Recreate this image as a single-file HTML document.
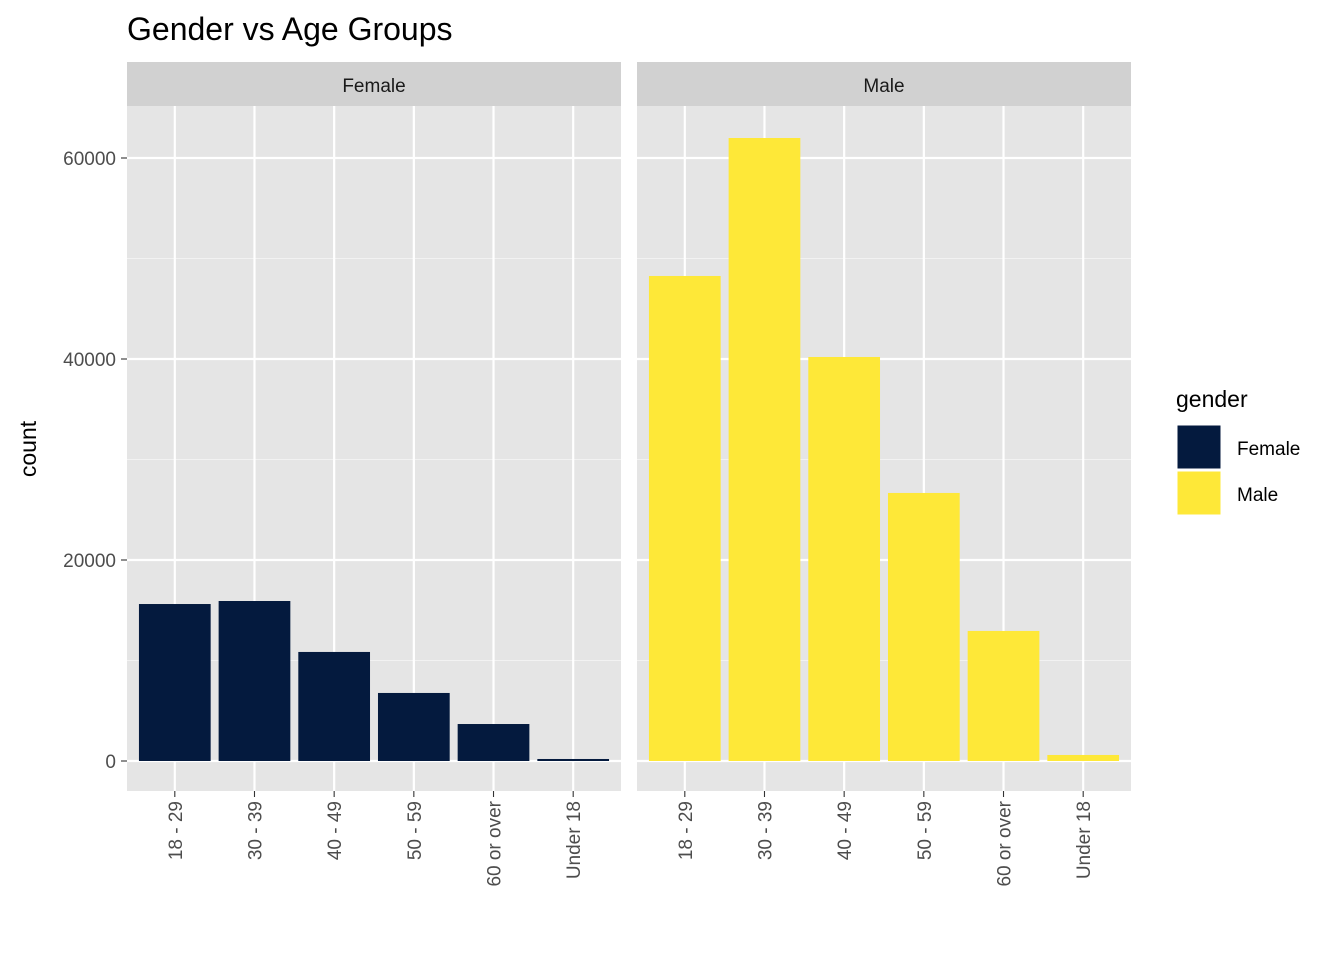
<!DOCTYPE html>
<html><head><meta charset="utf-8"><style>
body{margin:0;background:#fff;font-family:"Liberation Sans",Arial,sans-serif}
</style></head><body>
<svg id="chart" width="1344" height="960" xmlns="http://www.w3.org/2000/svg" font-family="Liberation Sans, Arial, sans-serif">
<text x="127" y="40" font-size="32" fill="#000">Gender vs Age Groups</text>
<text transform="translate(36,449) rotate(-90)" text-anchor="middle" font-size="23" fill="#000">count</text>
<g id="panels"></g>
<g>
<text x="1176" y="407" font-size="23" fill="#000">gender</text>
<rect x="1177" y="425" width="44" height="44" fill="#041a3e" stroke="#fff"/>
<text x="1237" y="455" font-size="19" fill="#000">Female</text>
<rect x="1177" y="471" width="44" height="44" fill="#fee838" stroke="#fff"/>
<text x="1237" y="501" font-size="19" fill="#000">Male</text>
</g>
</svg>
<script>
const categories=["18 - 29","30 - 39","40 - 49","50 - 59","60 or over","Under 18"];
const panelNames=["Female","Male"];
const femaleValues=[15620,15920,10850,6770,3680,200];
const maleValues=[48260,61990,40200,26670,12940,600];
const yTicks=[0,20000,40000,60000];
const yMinor=[10000,30000,50000];
const colors=["#041a3e","#fee838"];
const series=[femaleValues,maleValues];
const NS="http://www.w3.org/2000/svg";
const g=document.getElementById("panels");
const plotTop=106,plotBottom=791,yMin=-2985,yMax=65174;
const y=v=>plotBottom-(v-yMin)/(yMax-yMin)*(plotBottom-plotTop);
const panelX=[127,637],pw=494;
function mk(t,a,p){const e=document.createElementNS(NS,t);for(const k in a)e.setAttribute(k,a[k]);(p||g).appendChild(e);return e;}
panelNames.forEach((name,pi)=>{
 const x0=panelX[pi];
 const step=pw/(categories.length+0.2);
 const xc=i=>x0+step*(0.6+i);
 const bg=mk("rect",{x:x0,y:plotTop,width:pw,height:plotBottom-plotTop,fill:"#e5e5e5"});
 
 
 const strip=mk("rect",{x:x0,y:62,width:pw,height:44,fill:"#d1d1d1"});
 
 
 const st=mk("text",{x:x0+pw/2,y:92,"text-anchor":"middle","font-size":19,fill:"#1a1a1a"});
 st.textContent=name;
 
 
 yMinor.forEach(v=>{const l=mk("line",{x1:x0,x2:x0+pw,y1:y(v),y2:y(v),stroke:"#f2f2f2","stroke-width":1.1});
  
  });
 yTicks.forEach(v=>{const l=mk("line",{x1:x0,x2:x0+pw,y1:y(v),y2:y(v),stroke:"#fff","stroke-width":2.2});
  
  });
 categories.forEach((c,i)=>{const l=mk("line",{x1:xc(i),x2:xc(i),y1:plotTop,y2:plotBottom,stroke:"#fff","stroke-width":2.2});
  
  });
 series[pi].forEach((v,i)=>{const bw=step*0.9;
  const r=mk("rect",{x:xc(i)-bw/2,y:y(v),width:bw,height:y(0)-y(v),fill:colors[pi]});
  
  });
 categories.forEach((c,i)=>{
  const tk=mk("line",{x1:xc(i),x2:xc(i),y1:plotBottom,y2:plotBottom+6,stroke:"#333","stroke-width":1.1});
  
  
  const t=mk("text",{transform:`translate(${xc(i)+7},${plotBottom+10}) rotate(-90)`,"text-anchor":"end","font-size":19,fill:"#4d4d4d"});
  t.textContent=c;
  
  });
});
yTicks.forEach(v=>{
 const tk=mk("line",{x1:121,x2:127,y1:y(v),y2:y(v),stroke:"#333","stroke-width":1.1});
 
 
 const t=mk("text",{x:116,y:y(v)+7,"text-anchor":"end","font-size":19,fill:"#4d4d4d"});
 t.textContent=v;
 
 
});
</script>
</body></html>
